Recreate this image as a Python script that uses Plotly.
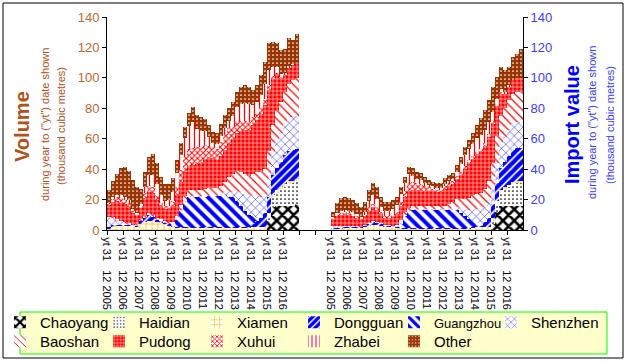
import plotly.graph_objects as go

FONT = "Liberation Sans, Arial, sans-serif"

# ---------------- data (quarterly, starting at "yt 31 12 2005") ----------------
year_labels = [2005, 2006, 2007, 2008, 2009, 2010, 2011, 2012, 2013, 2014, 2015, 2016]

series_names = ["Chaoyang", "Haidian", "Xiamen", "Dongguan", "Guangzhou", "Shenzhen",
                "Baoshan", "Pudong", "Xuhui", "Zhabei", "Other"]

# Volume (left panel)
vol_chaoyang = [0, 0, 0, 0, 0, 0, 0, 0, 0, 0, 0, 0, 0, 0, 0, 0, 0, 0, 0, 0, 0, 0, 0, 0,
                0, 0, 0, 0, 0, 0, 0, 0, 0, 0, 0, 0, 0, 0, 0, 0, 6, 15, 16, 16, 16, 16, 16, 17]
vol_haidian = [0, 0, 0, 0, 0, 0, 0, 0, 0, 0, 0, 0, 0, 0, 0, 0, 0, 0, 0, 0, 0, 0, 0, 0,
               0, 0, 0, 0, 0, 0, 0, 0, 0, 0, 0, 0, 0, 0, 0, 0, 3, 6, 8, 10, 12, 14, 15, 15.5]
vol_xiamen = [1, 2, 3, 3, 3, 3, 2, 2, 4, 5, 6, 6, 5, 5, 4, 3, 2, 1.5, 1.5, 1.5, 1.5, 1.5, 1.5, 1.5,
              1.5, 1.5, 1.5, 1.5, 1.5, 1.5, 1.5, 1.5, 1.5, 1.5, 1.5, 1.5, 2, 2, 2, 2, 2, 2, 2, 2, 2, 2, 1.5, 1]
vol_dongguan = [1, 1, 0.5, 0.5, 0.5, 0.5, 0.5, 1, 2, 3, 4, 3, 2, 1, 1, 1, 1, 0.3, 0.3, 0.3, 0.3, 0.3, 0.3, 0.3,
                0.3, 0.3, 0.3, 0.3, 0.3, 0.3, 0.3, 0.3, 0.3, 0.3, 0.3, 0.3, 2, 4, 6, 9, 11, 13, 15, 17, 19, 20, 20, 19.5]
vol_guangzhou = [0, 0, 0, 0, 0, 0, 0, 0, 0, 0, 0, 0, 0, 0, 0, 0, 0.5, 5, 11, 17, 20, 20, 20, 20,
                 20.5, 21, 21, 21, 21, 21, 20, 20, 17, 14, 11, 8, 5, 2, 0, 0, 0, 0, 0, 0, 0, 0, 0, 0]
vol_shenzhen = [6, 5, 3, 2, 1, 0.5, 0.5, 0.5, 0.5, 0.5, 0.5, 0.5, 0.5, 0.5, 0.5, 0.5, 0.5, 0.5, 0.5, 0.5, 0.5, 0.5, 0.5, 0.5,
                0.5, 0.5, 0.5, 0.5, 1, 2, 3, 3, 7, 9, 11, 13, 14, 15, 14, 12, 12, 14, 17, 19, 21, 22, 22, 22]
vol_baoshan = [0.5, 0.5, 0.5, 0.5, 0.5, 0.5, 0.5, 0.5, 0.5, 0.5, 0.5, 0.5, 0.5, 0.5, 0.5, 0.5, 1, 2, 3, 3, 4, 4, 4, 4,
               4, 4, 4, 4, 5, 7, 10, 12, 13, 13, 13, 13, 14, 15, 16, 17, 18, 19, 20, 20, 21, 22, 24, 25]
vol_pudong = [8, 10, 12, 12, 12, 11, 8, 6, 8, 12, 14, 14, 12, 9, 8, 9, 11, 14, 15, 16, 16, 16.5, 17, 18,
              20, 20, 20, 19, 20, 21, 22, 23, 25, 27, 29, 30, 32, 34, 38, 42, 40, 30, 24, 16, 11, 11, 10, 10]
vol_xuhui = [1, 2, 3, 3, 3, 2, 1, 0.5, 1, 3, 4, 4, 3, 2, 2, 2, 3, 5, 8, 10, 11, 11, 11, 10,
             9, 8, 7, 7, 9, 10, 10, 8, 8, 7, 6, 5, 5, 4, 4, 4, 3, 2, 1, 0.5, 0, 0, 0, 0]
vol_zhabei = [0.5, 1, 1, 2, 2, 2, 1.5, 0.5, 1, 4, 7, 8, 7, 5, 3, 4, 6, 9, 10, 12, 15, 17, 12, 11,
              9, 6, 3, 3, 4, 4, 5, 7, 9, 11, 12, 12, 8, 8, 9, 10, 10, 6, 4, 2, 1, 1, 0.5, 0]
vol_other = [8, 10.5, 14, 18, 19.5, 19.5, 19, 17, 10, 10, 12, 14, 14, 12, 11, 10, 9, 8.7, 7.7, 7.7, 8.3, 10.2, 9.2, 9.2,
             8.2, 7.7, 7.3, 7.2, 8.2, 8.7, 8.2, 9.2, 10.2, 11.2, 11.2, 11.2, 10, 11, 13, 14.6, 17.6, 16.7, 15.6, 15.5, 16, 18, 16, 19]

# Import value (right panel)
imp_chaoyang = [0, 0, 0, 0, 0, 0, 0, 0, 0, 0, 0, 0, 0, 0, 0, 0, 0, 0, 0, 0, 0, 0, 0, 0,
                0, 0, 0, 0, 0, 0, 0, 0, 0, 0, 0, 0, 0, 0, 0, 0, 4, 12, 16, 16, 16, 16, 16, 16]
imp_haidian = [0, 0, 0, 0, 0, 0, 0, 0, 0, 0, 0, 0, 0, 0, 0, 0, 0, 0, 0, 0, 0, 0, 0, 0,
               0, 0, 0, 0, 0, 0, 0, 0, 0, 0, 0, 0, 0, 0, 0, 0, 2, 5, 8, 10, 12, 14, 15, 15]
imp_xiamen = [1, 1, 1, 1.5, 1.5, 1.5, 1.5, 1.5, 2, 2.5, 3, 3, 2.5, 2, 2, 2, 1.5, 1, 1, 1, 1, 1, 1, 1,
              1, 1, 1, 1, 1, 1, 1, 1, 1, 1, 1, 1.5, 2, 2, 2, 2, 2, 2, 2, 2, 1.5, 1.5, 1, 1]
imp_dongguan = [0.5, 0.5, 0.5, 0.5, 0.5, 0.5, 0.5, 0.5, 1, 2, 2.5, 2, 1.5, 1, 1, 0.5, 0.5, 0.3, 0.3, 0.3, 0.3, 0.3, 0.3, 0.3,
                0.3, 0.3, 0.3, 0.3, 0.3, 0.3, 0.3, 0.3, 0.3, 0.3, 0.3, 0.3, 0.5, 1, 3, 6, 9, 12, 15, 17, 19, 21, 22, 22]
imp_guangzhou = [0, 0, 0, 0, 0, 0, 0, 0, 0, 0, 0, 0, 0, 0, 0, 0, 0.5, 3, 8, 11, 12, 12, 12, 12,
                 12, 12, 12, 12, 12, 12, 12, 12, 10, 8, 6, 4, 2, 0.5, 0, 0, 0, 0, 0, 0, 0, 0, 0, 0]
imp_shenzhen = [1, 1, 1, 0.5, 0.5, 0.5, 0.5, 0.3, 0.3, 0.3, 0.3, 0.3, 0.3, 0.3, 0.3, 0.3, 0.3, 0.3, 0.3, 0.3, 0.3, 0.3, 0.3, 0.3,
                0.3, 0.3, 0.3, 0.3, 0.5, 0.5, 1, 2, 3, 4, 6, 8, 9, 10, 10, 10, 11, 13, 15, 16, 17, 17, 17, 17]
imp_baoshan = [0, 0, 0, 0, 0, 0, 0, 0, 0, 0, 0, 0, 0, 0, 0, 0, 0.5, 2, 2, 2, 2, 2, 2, 2,
               2, 2, 2, 2, 2, 3, 4, 5, 6, 7, 8, 9, 10, 11, 12, 14, 16, 18, 19, 19, 20, 20, 20, 20]
imp_pudong = [5, 7, 8, 8, 8, 7, 6, 5, 6, 8, 9, 8, 6, 5, 5, 6, 7, 9, 10, 11, 11, 11, 11, 10,
              10, 10, 9.5, 9.5, 11, 12, 12, 13, 16, 20, 23, 24, 26, 27, 28, 29, 26, 20, 15, 10, 9, 9, 9, 9]
imp_xuhui = [0.5, 1, 1.3, 1.5, 1.3, 1.2, 1, 0.5, 1, 2, 2, 2, 1.5, 1, 1, 1, 1.5, 3, 4, 5, 5, 4, 3.5, 3,
             2.5, 2, 1.5, 1.5, 2, 2, 2, 2, 2, 2, 2, 2, 2, 2, 2, 2, 1.5, 1, 0.5, 0, 0, 0, 0, 0]
imp_zhabei = [0.5, 1, 1, 1, 1, 1, 1, 0.5, 1.3, 4.2, 6, 5.2, 3.2, 3.3, 3.3, 4, 4.5, 5, 5, 6, 4, 3, 3, 2.5,
              1.5, 1, 1, 1, 1.5, 1.5, 1.5, 3, 5, 7, 7, 8, 9, 9, 9, 8, 6, 3, 2, 1, 0.5, 0, 0, 0]
imp_other = [3.5, 6, 8, 9, 8, 8, 7, 7, 7, 7, 7.9, 8, 7, 6, 6, 5.9, 5.7, 4.9, 4.4, 5, 4.9, 4.7, 4.1, 3.9,
             3.3, 3.2, 3.1, 3.1, 3.7, 3.7, 3.4, 4.4, 4.9, 5.5, 5.7, 6.7, 8.5, 10.9, 12.8, 14.4, 16.5, 14.7, 14.8, 14, 12.3, 15.5, 16, 19]

volume = [vol_chaoyang, vol_haidian, vol_xiamen, vol_dongguan, vol_guangzhou, vol_shenzhen,
          vol_baoshan, vol_pudong, vol_xuhui, vol_zhabei, vol_other]
imports = [imp_chaoyang, imp_haidian, imp_xiamen, imp_dongguan, imp_guangzhou, imp_shenzhen,
           imp_baoshan, imp_pudong, imp_xuhui, imp_zhabei, imp_other]

# ---------------- styling ----------------
RED = "#ff0000"
BLUE = "#0000ff"
BROWN = "#993300"
GOLD = "#ffc000"
patterns = {
    "Chaoyang": dict(shape="x", fgcolor="black", bgcolor="white", size=8, solidity=0.55),
    "Haidian": dict(shape=".", fgcolor="black", bgcolor="white", size=4, solidity=0.15),
    "Xiamen": dict(shape="+", fgcolor=GOLD, bgcolor="white", size=6, solidity=0.25),
    "Dongguan": dict(shape="/", fgcolor=BLUE, bgcolor="white", size=6, solidity=0.7),
    "Guangzhou": dict(shape="\\", fgcolor=BLUE, bgcolor="white", size=8, solidity=0.5),
    "Shenzhen": dict(shape="x", fgcolor=BLUE, bgcolor="white", size=6, solidity=0.15),
    "Baoshan": dict(shape="\\", fgcolor=RED, bgcolor="white", size=6, solidity=0.2),
    "Pudong": dict(shape="+", fgcolor="white", bgcolor=RED, size=4, solidity=0.25),
    "Xuhui": dict(shape="x", fgcolor=RED, bgcolor="white", size=4, solidity=0.45),
    "Zhabei": dict(shape="|", fgcolor=RED, bgcolor="white", size=5, solidity=0.25),
    "Other": dict(shape=".", fgcolor="white", bgcolor=BROWN, size=4, solidity=0.15),
}

W, H = 628, 362
L, R, T, B = 107, 105, 17, 132
PW, PH = W - L - R, H - T - B


def px(xp):
    return (xp - L) / PW


def py(yp):
    return (H - B - yp) / PH


# legend grid: each entry gets its own one-item legend (6 columns x 2 rows)
col_left = [0, 99, 197, 294, 394, 491]
row_top = [306, 325]

n = len(vol_other)
x_vol = [(q + 0.5) / 4 for q in range(n)]
x_imp = [14 + (q + 0.5) / 4 for q in range(n)]

fig = go.Figure()
for i, name in enumerate(series_names):
    pat = patterns[name]
    label = name if name != "Guangzhou" else '<span style="font-size:13px">Guangzhou</span>'
    lid = "legend" if i == 0 else "legend%d" % (i + 1)
    fig.add_trace(go.Bar(
        x=x_vol + x_imp, y=volume[i] + imports[i], width=0.25, name=label,
        marker=dict(color=pat["bgcolor"], line=dict(width=0),
                    pattern=dict(fillmode="replace", **pat)),
        legend=lid, hoverinfo="skip",
    ))
    fig.update_layout({lid: dict(
        x=px(col_left[i % 6]), xanchor="left", y=py(row_top[i // 6]), yanchor="top",
        orientation="v", bgcolor="rgba(0,0,0,0)", borderwidth=0,
        font=dict(size=15, family=FONT, color="black"),
    )})

fig.add_trace(go.Scatter(x=[0], y=[0], yaxis="y2", mode="markers", marker=dict(opacity=0),
                         showlegend=False, hoverinfo="skip"))

tick_text = ["yt 31\u00a0\u00a0\u00a012 " + str(y) for y in year_labels]
tickvals = list(range(26))
ticktext = tick_text + ["", ""] + tick_text

TICK_BROWN = "#c0682e"
TITLE_BROWN = "#b0521b"
TICK_BLUE = "#3c3cff"

fig.update_layout(
    width=W, height=H, autosize=False,
    margin=dict(l=L, r=R, t=T, b=B, pad=0, autoexpand=False),
    paper_bgcolor="white", plot_bgcolor="white",
    barmode="stack", bargap=0,
    font=dict(family=FONT, color="black"),
    xaxis=dict(range=[0, 26], tickmode="array", tickvals=tickvals, ticktext=ticktext,
               tickangle=90, ticks="outside", ticklen=4, tickcolor="black",
               showline=True, linecolor="black", linewidth=1, showgrid=False, zeroline=False,
               automargin=False,
               tickfont=dict(size=11, color="black", family=FONT)),
    yaxis=dict(range=[0, 140], dtick=20, ticks="outside", ticklen=4, tickcolor="black",
               showline=True, linecolor="black", linewidth=1, showgrid=False, zeroline=False,
               automargin=False,
               tickfont=dict(size=13, color=TICK_BROWN, family=FONT)),
    yaxis2=dict(range=[0, 140], dtick=20, overlaying="y", side="right", anchor="x",
                ticks="outside", ticklen=4, tickcolor="black", automargin=False,
                showline=True, linecolor="black", linewidth=1, showgrid=False, zeroline=False,
                tickfont=dict(size=13, color=TICK_BLUE, family=FONT)),
)

fig.add_shape(type="rect", xref="paper", yref="paper", x0=px(20), x1=px(607), y0=py(354), y1=py(312),
              fillcolor="#ffffcc", line=dict(color="#00ff00", width=1), layer="below")
fig.add_shape(type="rect", xref="paper", yref="paper", x0=px(3), x1=px(623), y0=py(358), y1=py(3),
              fillcolor="rgba(0,0,0,0)", line=dict(color="black", width=1), layer="below")

ann = [
    ("<b>Volume</b>", 22, 127, 20, TITLE_BROWN),
    ('during year to ("yt") date shown', 45, 125, 11, TITLE_BROWN),
    ("(thousand cubic metres)", 61, 126, 11, TITLE_BROWN),
    ("<b>Import value</b>", 572, 125, 20, BLUE),
    ('during year to ("yt") date shown', 592, 123, 11, TICK_BLUE),
    ("(thousand cubic metres)", 610, 125, 11, TICK_BLUE),
]
for text, xx, yy, size, color in ann:
    fig.add_annotation(text=text, xref="paper", yref="paper", x=px(xx), y=py(yy),
                       xanchor="center", yanchor="middle", textangle=-90, showarrow=False,
                       font=dict(size=size, color=color, family=FONT))

fig.write_html("out.html", config={"displayModeBar": False},
               post_script="document.body.style.margin='0px';")
